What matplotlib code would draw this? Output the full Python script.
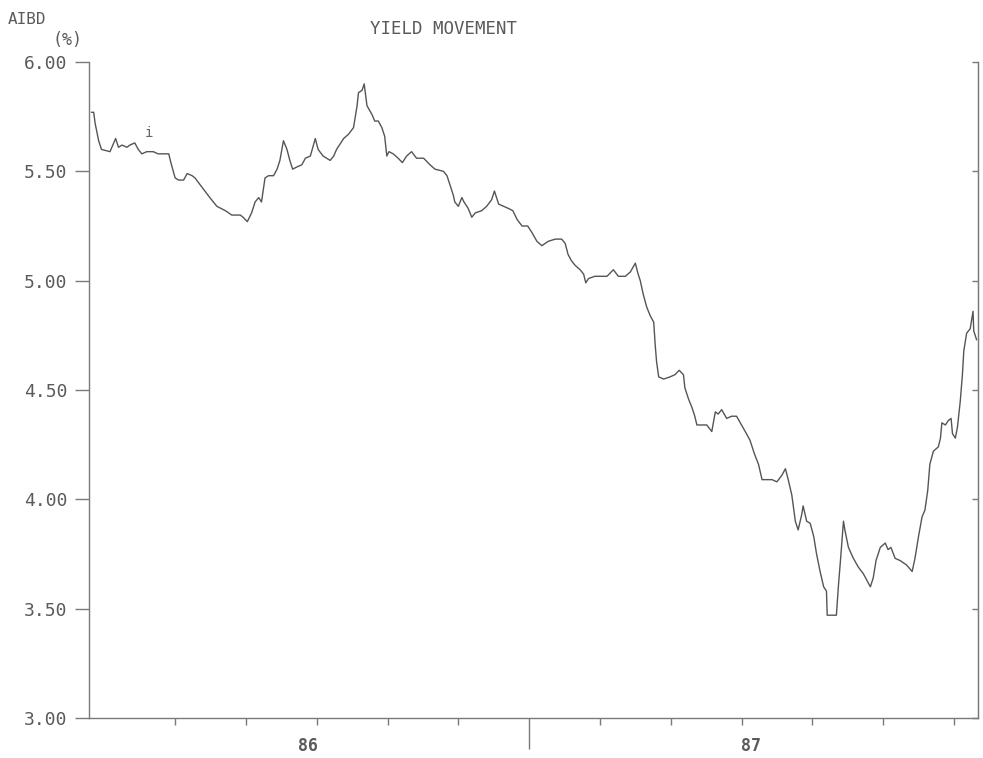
import matplotlib
matplotlib.use("Agg")
import matplotlib.pyplot as plt

# ---- data (x in month-tick units, y = yield %) ----
x_vals = [-0.18, -0.15, -0.13, -0.08, -0.04, 0.08, 0.12, 0.16, 0.20, 0.25,
          0.32, 0.36, 0.43, 0.48, 0.53, 0.60, 0.69, 0.76, 0.91, 0.94,
          1.00, 1.05, 1.12, 1.17, 1.24, 1.28, 1.35, 1.42, 1.49, 1.59,
          1.71, 1.80, 1.92, 1.96, 2.02, 2.08, 2.13, 2.18, 2.22, 2.27,
          2.32, 2.39, 2.44, 2.48, 2.53, 2.58, 2.62, 2.66, 2.72, 2.79,
          2.84, 2.91, 2.98, 3.02, 3.09, 3.19, 3.24, 3.28, 3.38, 3.45,
          3.52, 3.57, 3.59, 3.64, 3.67, 3.71, 3.78, 3.82, 3.87, 3.92,
          3.96, 3.99, 4.02, 4.08, 4.15, 4.21, 4.27, 4.34, 4.41, 4.51,
          4.60, 4.67, 4.79, 4.84, 4.88, 4.93, 4.95, 5.00, 5.05, 5.08,
          5.14, 5.19, 5.24, 5.33, 5.40, 5.47, 5.51, 5.57, 5.64, 5.71,
          5.77, 5.83, 5.90, 5.98, 6.04, 6.11, 6.18, 6.27, 6.37, 6.46,
          6.51, 6.55, 6.60, 6.65, 6.72, 6.77, 6.80, 6.84, 6.93, 7.03,
          7.10, 7.19, 7.26, 7.36, 7.43, 7.50, 7.54, 7.57, 7.61, 7.66,
          7.71, 7.76, 7.78, 7.80, 7.83, 7.90, 7.99, 8.06, 8.12, 8.18,
          8.20, 8.25, 8.30, 8.34, 8.37, 8.44, 8.51, 8.58, 8.63, 8.67,
          8.72, 8.79, 8.86, 8.93, 9.00, 9.07, 9.12, 9.18, 9.24, 9.29,
          9.36, 9.43, 9.50, 9.57, 9.62, 9.66, 9.71, 9.76, 9.80, 9.85,
          9.87, 9.92, 9.97, 10.02, 10.06, 10.11, 10.16, 10.20, 10.21, 10.30,
          10.34, 10.37, 10.40, 10.44, 10.46, 10.51, 10.58, 10.65, 10.72, 10.77,
          10.82, 10.86, 10.90, 10.96, 11.03, 11.07, 11.11, 11.17, 11.24, 11.33,
          11.41, 11.45, 11.50, 11.55, 11.59, 11.63, 11.66, 11.71, 11.78, 11.81,
          11.83, 11.88, 11.92, 11.96, 11.98, 12.02, 12.05, 12.09, 12.12, 12.14,
          12.18, 12.23, 12.27, 12.28, 12.32]
yield_vals = [5.77, 5.77, 5.72, 5.64, 5.60, 5.59, 5.62, 5.65, 5.61, 5.62,
              5.61, 5.62, 5.63, 5.60, 5.58, 5.59, 5.59, 5.58, 5.58, 5.54,
              5.47, 5.46, 5.46, 5.49, 5.48, 5.47, 5.44, 5.41, 5.38, 5.34,
              5.32, 5.30, 5.30, 5.29, 5.27, 5.31, 5.36, 5.38, 5.36, 5.47,
              5.48, 5.48, 5.51, 5.55, 5.64, 5.60, 5.55, 5.51, 5.52, 5.53,
              5.56, 5.57, 5.65, 5.60, 5.57, 5.55, 5.57, 5.60, 5.65, 5.67,
              5.70, 5.80, 5.86, 5.87, 5.90, 5.80, 5.76, 5.73, 5.73, 5.70,
              5.66, 5.57, 5.59, 5.58, 5.56, 5.54, 5.57, 5.59, 5.56, 5.56,
              5.53, 5.51, 5.50, 5.48, 5.44, 5.39, 5.36, 5.34, 5.38, 5.36,
              5.33, 5.29, 5.31, 5.32, 5.34, 5.37, 5.41, 5.35, 5.34, 5.33,
              5.32, 5.28, 5.25, 5.25, 5.22, 5.18, 5.16, 5.18, 5.19, 5.19,
              5.17, 5.12, 5.09, 5.07, 5.05, 5.03, 4.99, 5.01, 5.02, 5.02,
              5.02, 5.05, 5.02, 5.02, 5.04, 5.08, 5.03, 5.00, 4.94, 4.88,
              4.84, 4.81, 4.71, 4.63, 4.56, 4.55, 4.56, 4.57, 4.59, 4.57,
              4.51, 4.46, 4.42, 4.38, 4.34, 4.34, 4.34, 4.31, 4.40, 4.39,
              4.41, 4.37, 4.38, 4.38, 4.34, 4.30, 4.27, 4.21, 4.16, 4.09,
              4.09, 4.09, 4.08, 4.11, 4.14, 4.09, 4.02, 3.90, 3.86, 3.93,
              3.97, 3.90, 3.89, 3.83, 3.75, 3.67, 3.60, 3.58, 3.47, 3.47,
              3.47, 3.61, 3.73, 3.90, 3.86, 3.78, 3.73, 3.69, 3.66, 3.63,
              3.60, 3.64, 3.72, 3.78, 3.80, 3.77, 3.78, 3.73, 3.72, 3.70,
              3.67, 3.73, 3.83, 3.92, 3.95, 4.04, 4.16, 4.22, 4.24, 4.28,
              4.35, 4.34, 4.36, 4.37, 4.30, 4.28, 4.33, 4.45, 4.57, 4.68,
              4.76, 4.78, 4.86, 4.77, 4.73]

y_ticks = [3.00, 3.50, 4.00, 4.50, 5.00, 5.50, 6.00]
month_ticks = [1, 2, 3, 4, 5, 7, 8, 9, 10, 11, 12]
mid_tick = [6]
year_labels = ["86", "87"]
year_label_pos = [3, 9]
title = "YIELD MOVEMENT"

# ---- styling ----
INK = "#555555"
AXC = "#7a7a7a"
TXT = "#5a5a5a"
FONT = "DejaVu Sans Mono"

fig = plt.figure(figsize=(9.83, 7.58), dpi=100)
ax = fig.add_axes([0.0910, 0.0528, 0.9039, 0.8654])

ax.plot(x_vals, yield_vals, color=INK, linewidth=1.0)

ax.set_xlim(-0.21, 12.34)
ax.set_ylim(3.0, 6.0)

ax.spines["top"].set_visible(False)
for s in ["left", "right", "bottom"]:
    ax.spines[s].set_color(AXC)
    ax.spines[s].set_linewidth(1.0)

ax.set_yticks(y_ticks)
ax.set_yticklabels([f"{v:.2f}" for v in y_ticks], fontfamily=FONT,
                   fontsize=13, color=TXT)
ax.tick_params(axis="y", which="major", direction="out", length=10, pad=6,
               color=AXC, width=1.0, right=False)

ax.set_xticks(month_ticks)
ax.set_xticklabels([])
ax.set_xticks(mid_tick, minor=True)
ax.tick_params(axis="x", which="major", direction="out", length=5,
               color=AXC, width=1.0)
ax.tick_params(axis="x", which="minor", direction="out", length=22,
               color=AXC, width=1.0)

# right-hand inward ticks
sec = ax.secondary_yaxis("right")
sec.set_yticks(y_ticks)
sec.set_yticklabels([])
sec.tick_params(direction="in", length=4, color=AXC, width=1.0)
sec.spines["right"].set_color(AXC)

# year labels under the axis
for lab, pos, dx in zip(year_labels, year_label_pos, [-6, 7]):
    ax.annotate(lab, xy=(pos, 0), xycoords=("data", "axes fraction"),
                xytext=(dx, -20), textcoords="offset points",
                ha="center", va="center", fontfamily=FONT, fontsize=12,
                fontweight="bold", color=TXT)

# small marker above the line
ax.text(0.63, 5.675, "i", fontfamily=FONT, fontsize=10, color="#666666",
        ha="center", va="center")

fig.text(0.4507, 0.9624, title, ha="center", va="center", fontfamily=FONT,
         fontsize=12.5, color=TXT)
fig.text(8 / 983, 1 - 19 / 758, "AIBD", ha="left", va="center",
         fontfamily=FONT, fontsize=11.5, color=TXT)
fig.text(53 / 983, 1 - 40 / 758, "(%)", ha="left", va="center",
         fontfamily=FONT, fontsize=12, color=TXT)

fig.savefig("out.png", dpi=100)
